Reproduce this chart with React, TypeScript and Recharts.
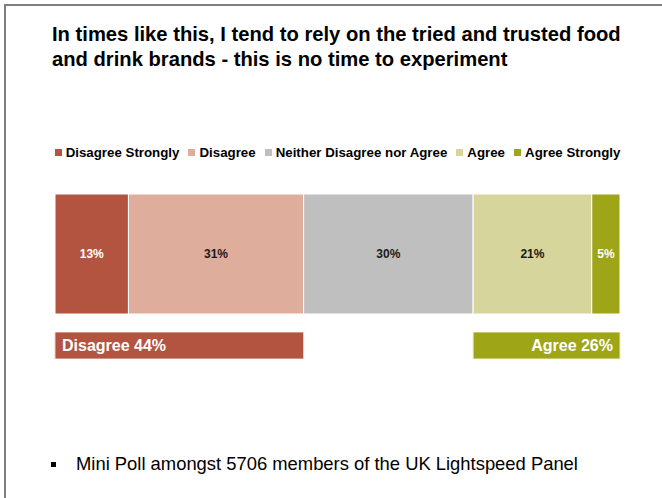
import React from 'react';
import { BarChart, Bar, XAxis, YAxis, Legend, LabelList } from 'recharts';

const categories = ['Disagree Strongly', 'Disagree', 'Neither Disagree nor Agree', 'Agree', 'Agree Strongly'];
const shares = [13, 31, 30, 21, 5];
const colors = ['#b35441', '#dfad9c', '#bfbfbf', '#d5d59c', '#9ea618'];
const labelColors = ['#ffffff', '#1a1a1a', '#1a1a1a', '#1a1a1a', '#ffffff'];

const netLabels = ['Disagree', 'Agree'];
const netValues = [44, 26];
const netColors = ['#b35441', '#9ea618'];

const FONT = '"Liberation Sans", Arial, sans-serif';
const LEGEND_H = 18;

const mainRow: Record<string, string | number> = { row: 'all' };
categories.forEach((c, i) => {
  mainRow[c] = shares[i];
});

const netRow = {
  row: 'net',
  neg: netValues[0],
  gap: 100 - netValues[0] - netValues[1],
  pos: netValues[1],
};

// legend kept in the survey order (recharts sorts by default)
const renderLegend = () => (
  <div
    style={{
      height: LEGEND_H,
      display: 'flex',
      justifyContent: 'center',
      alignItems: 'center',
      whiteSpace: 'nowrap',
      fontFamily: FONT,
      fontSize: 13.3,
      fontWeight: 'bold',
      color: '#000',
    }}
  >
    {categories.map((c, i) => (
      <span key={c} style={{ display: 'flex', alignItems: 'center', marginRight: i < categories.length - 1 ? 9 : 0 }}>
        <span style={{ display: 'inline-block', width: 7, height: 7, background: colors[i], marginRight: 4 }} />
        {c}
      </span>
    ))}
  </div>
);

const App: React.FC = () => {
  return (
    <div
      style={{
        position: 'absolute',
        top: 0,
        left: 0,
        width: 662,
        height: 498,
        background: '#fff',
        fontFamily: FONT,
        overflow: 'hidden',
      }}
    >
      {/* slide frame */}
      <div
        style={{
          position: 'absolute',
          top: 4,
          left: 4,
          width: 670,
          height: 510,
          borderTop: '2px solid #7f7f7f',
          borderLeft: '2px solid #7f7f7f',
        }}
      />

      <div
        style={{
          position: 'absolute',
          top: 22,
          left: 52,
          width: 610,
          fontSize: 20.2,
          lineHeight: '25px',
          fontWeight: 'bold',
          color: '#000',
        }}
      >
        In times like this, I tend to rely on the tried and trusted food
        <br />
        and drink brands - this is no time to experiment
      </div>

      {/* main stacked bar + legend */}
      <div style={{ position: 'absolute', top: 130, left: 0 }}>
        <BarChart
          width={662}
          height={190}
          layout="vertical"
          data={[mainRow]}
          margin={{ top: 64 - LEGEND_H, right: 42, bottom: 6, left: 55 }}
          barCategoryGap={0}
        >
          <XAxis type="number" domain={[0, 100]} hide />
          <YAxis type="category" dataKey="row" hide />
          <Legend verticalAlign="top" align="center" wrapperStyle={{ top: 13 }} content={renderLegend} />
          {categories.map((c, i) => (
            <Bar
              key={c}
              dataKey={c}
              name={c}
              stackId="a"
              fill={colors[i]}
              stroke="#ffffff"
              strokeWidth={1}
              isAnimationActive={false}
            >
              <LabelList
                dataKey={c}
                position="center"
                formatter={(v: number) => `${v}%`}
                style={{ fill: labelColors[i], fontSize: 12, fontWeight: 'bold', fontFamily: FONT }}
              />
            </Bar>
          ))}
        </BarChart>
      </div>

      {/* net disagree / agree */}
      <div style={{ position: 'absolute', top: 332, left: 0 }}>
        <BarChart
          width={662}
          height={27}
          layout="vertical"
          data={[netRow]}
          margin={{ top: 0, right: 42, bottom: 0, left: 55 }}
          barCategoryGap={0}
        >
          <XAxis type="number" domain={[0, 100]} hide />
          <YAxis type="category" dataKey="row" hide />
          <Bar dataKey="neg" stackId="n" fill={netColors[0]} stroke="#f0d0c8" strokeWidth={1} isAnimationActive={false}>
            <LabelList
              dataKey="neg"
              position="insideLeft"
              offset={7}
              formatter={(v: number) => `${netLabels[0]} ${v}%`}
              style={{ fill: '#fff', fontSize: 16, fontWeight: 'bold', fontFamily: FONT }}
            />
          </Bar>
          <Bar dataKey="gap" stackId="n" fill="transparent" isAnimationActive={false} />
          <Bar dataKey="pos" stackId="n" fill={netColors[1]} stroke="#e8ecc0" strokeWidth={1} isAnimationActive={false}>
            <LabelList
              dataKey="pos"
              position="insideRight"
              offset={7}
              formatter={(v: number) => `${netLabels[1]} ${v}%`}
              style={{ fill: '#fff', fontSize: 16, fontWeight: 'bold', fontFamily: FONT }}
            />
          </Bar>
        </BarChart>
      </div>

      {/* footnote */}
      <div
        style={{
          position: 'absolute',
          top: 453,
          left: 51,
          fontSize: 18.4,
          color: '#000',
          display: 'flex',
          alignItems: 'center',
        }}
      >
        <span style={{ display: 'inline-block', width: 5, height: 5, background: '#000', marginRight: 20 }} />
        <span>Mini Poll amongst 5706 members of the UK Lightspeed Panel</span>
      </div>
    </div>
  );
};

export default App;
